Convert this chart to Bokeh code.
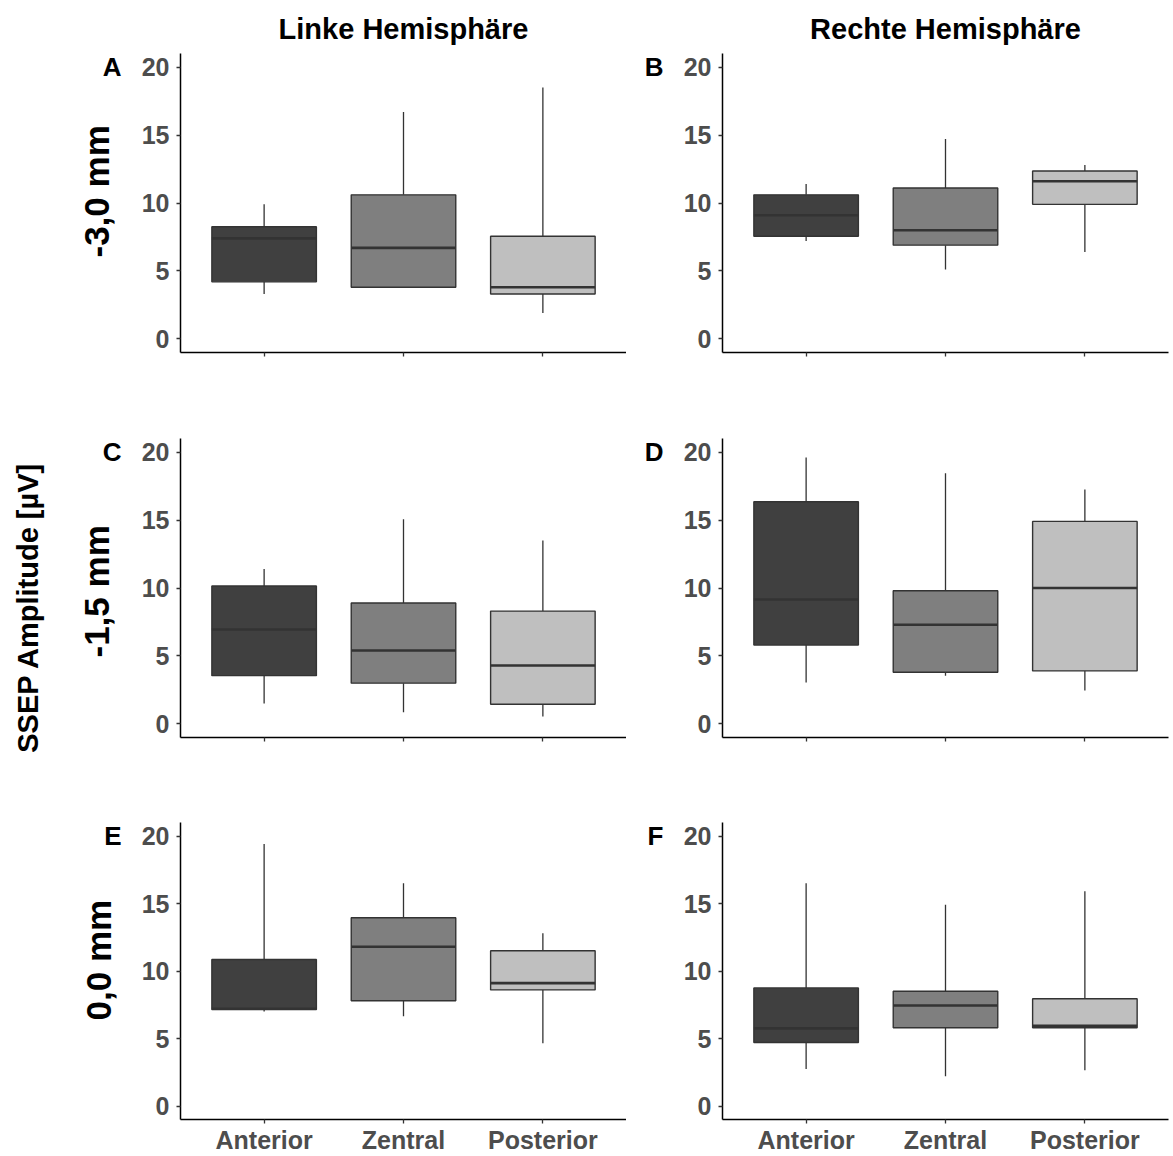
from bokeh.plotting import figure
from bokeh.models import Range1d, FixedTicker, ColumnDataSource, LinearAxis, Title
from bokeh.layouts import column, row
from bokeh.embed import file_html
from bokeh.resources import INLINE

# ---------------- data ----------------
regions = ["Anterior", "Zentral", "Posterior"]
y_ticks = [0, 5, 10, 15, 20]
col_titles = ["Linke Hemisphäre", "Rechte Hemisphäre"]
row_titles = ["-3,0 mm", "-1,5 mm", "0,0 mm"]
panel_letters = ["A", "B", "C", "D", "E", "F"]
y_title = "SSEP Amplitude [µV]"

# panel A: left hemisphere, -3,0 mm
A_lower = [3.3, 3.75, 1.9]
A_q1 = [4.2, 3.8, 3.3]
A_med = [7.4, 6.7, 3.8]
A_q3 = [8.25, 10.6, 7.55]
A_upper = [9.9, 16.7, 18.5]

# panel B: right hemisphere, -3,0 mm
B_lower = [7.2, 5.1, 6.4]
B_q1 = [7.55, 6.9, 9.9]
B_med = [9.1, 8.0, 11.6]
B_q3 = [10.6, 11.1, 12.35]
B_upper = [11.4, 14.7, 12.8]

# panel C: left hemisphere, -1,5 mm
C_lower = [1.5, 0.85, 0.55]
C_q1 = [3.55, 3.0, 1.45]
C_med = [6.95, 5.4, 4.3]
C_q3 = [10.15, 8.9, 8.3]
C_upper = [11.4, 15.05, 13.5]

# panel D: right hemisphere, -1,5 mm
D_lower = [3.05, 3.55, 2.45]
D_q1 = [5.8, 3.8, 3.9]
D_med = [9.15, 7.3, 10.0]
D_q3 = [16.35, 9.8, 14.9]
D_upper = [19.6, 18.45, 17.25]

# panel E: left hemisphere, 0,0 mm
E_lower = [7.0, 6.65, 4.65]
E_q1 = [7.15, 7.8, 8.6]
E_med = [7.2, 11.8, 9.1]
E_q3 = [10.85, 13.95, 11.5]
E_upper = [19.4, 16.5, 12.8]

# panel F: right hemisphere, 0,0 mm
F_lower = [2.75, 2.2, 2.65]
F_q1 = [4.7, 5.8, 5.8]
F_med = [5.75, 7.45, 5.95]
F_q3 = [8.75, 8.5, 7.95]
F_upper = [16.5, 14.9, 15.9]

panels = [
    (A_lower, A_q1, A_med, A_q3, A_upper),
    (B_lower, B_q1, B_med, B_q3, B_upper),
    (C_lower, C_q1, C_med, C_q3, C_upper),
    (D_lower, D_q1, D_med, D_q3, D_upper),
    (E_lower, E_q1, E_med, E_q3, E_upper),
    (F_lower, F_q1, F_med, F_q3, F_upper),
]

# ---------------- style ----------------
fills = ["#404040", "#7f7f7f", "#bfbfbf"]
FONT = "Liberation Sans"
EDGE = "#333333"

TOTAL_H = 1156
YT_W = 45                                      # width of the strip holding the y title
frame_h = 299
row_borders = [(53, 43), (43, 43), (42, 35)]  # (top, bottom)
col_geom = [(180 - YT_W, 446, 0), (96, 446, 5)]  # (left border, frame width, right border)
row_title_offset = [95, 80, 99]                # px shift of row titles along the axis


def make_panel(idx):
    r, c = divmod(idx, 2)
    lower, q1, med, q3, upper = panels[idx]
    bt, bb = row_borders[r]
    bl, fw, br = col_geom[c]
    xs = list(range(1, len(regions) + 1))

    p = figure(width=bl + fw + br, height=bt + frame_h + bb,
               x_range=Range1d(0.4, len(regions) + 0.6), y_range=Range1d(-1, 21),
               output_backend="svg", toolbar_location=None,
               min_border_left=bl, min_border_right=br,
               min_border_top=bt, min_border_bottom=bb)
    p.outline_line_color = None
    p.xgrid.visible = False
    p.ygrid.visible = False
    p.background_fill_color = "white"
    p.border_fill_color = "white"

    src = ColumnDataSource(dict(x=xs, lower=lower, q1=q1, med=med, q3=q3,
                                upper=upper, fill=fills))
    p.segment(x0="x", y0="lower", x1="x", y1="q1", source=src,
              line_color=EDGE, line_width=1.3)
    p.segment(x0="x", y0="q3", x1="x", y1="upper", source=src,
              line_color=EDGE, line_width=1.3)
    p.vbar(x="x", bottom="q1", top="q3", width=0.75, source=src,
           fill_color="fill", line_color=EDGE, line_width=1.4)
    p.vbar(x="x", bottom="med", top="med", width=0.75, source=src,
           fill_alpha=0, line_color=EDGE, line_width=2.6)

    p.yaxis.ticker = FixedTicker(ticks=y_ticks)
    p.xaxis.ticker = FixedTicker(ticks=xs)
    if r == 2:
        p.xaxis.major_label_overrides = {x: name for x, name in zip(xs, regions)}
    else:
        p.xaxis.major_label_overrides = {x: "" for x in xs}

    for ax in (p.xaxis[0], p.yaxis[0]):
        ax.axis_line_color = "black"
        ax.axis_line_width = 1.5
        ax.major_tick_line_color = EDGE
        ax.major_tick_line_width = 1.3
        ax.major_tick_out = 4
        ax.major_tick_in = 0
        ax.minor_tick_line_color = None
        ax.major_label_text_font = FONT
        ax.major_label_text_font_size = "25px"
        ax.major_label_text_font_style = "bold"
        ax.major_label_text_color = "#4d4d4d"
    p.yaxis.major_label_standoff = 7
    p.xaxis.major_label_standoff = 2

    # panel letter via an extra, line-less axis on the left
    letter_axis = LinearAxis(ticker=FixedTicker(ticks=[20]),
                             major_label_overrides={20: panel_letters[idx]})
    letter_axis.axis_line_color = None
    letter_axis.major_tick_line_color = None
    letter_axis.major_tick_out = 0
    letter_axis.major_tick_in = 0
    letter_axis.minor_tick_line_color = None
    letter_axis.major_label_standoff = 17
    letter_axis.major_label_text_font = FONT
    letter_axis.major_label_text_font_size = "26px"
    letter_axis.major_label_text_font_style = "bold"
    letter_axis.major_label_text_color = "black"
    p.add_layout(letter_axis, "left")

    if c == 0:
        p.add_layout(Title(text=row_titles[r], align="left", offset=row_title_offset[r],
                           standoff=-33, text_font=FONT, text_font_size="35px",
                           text_font_style="bold", text_color="black"), "left")

    if r == 0:
        p.title.text = col_titles[c]
        p.title.align = "center"
        p.title.text_font = FONT
        p.title.text_font_size = "29px"
        p.title.text_font_style = "bold"
        p.title.text_color = "black"
        p.title.standoff = 18
    return p


def make_ytitle_strip():
    # narrow strip whose (empty) frame is centred where the shared y title sits
    top_b, bot_b = 128, 70
    s = figure(width=YT_W, height=TOTAL_H, x_range=Range1d(0, 1), y_range=Range1d(0, 1),
               x_axis_type=None, y_axis_type=None,
               output_backend="svg", toolbar_location=None,
               min_border_left=YT_W - 1, min_border_right=0,
               min_border_top=top_b, min_border_bottom=bot_b)
    s.outline_line_color = None
    s.xgrid.visible = False
    s.ygrid.visible = False
    s.background_fill_color = "white"
    s.border_fill_color = "white"
    ax = LinearAxis(ticker=FixedTicker(ticks=[]))
    ax.axis_line_color = None
    ax.major_tick_line_color = None
    ax.minor_tick_line_color = None
    ax.major_tick_out = 0
    ax.major_tick_in = 0
    ax.major_label_standoff = 0
    ax.axis_label = y_title
    ax.axis_label_text_font = FONT
    ax.axis_label_text_font_size = "29px"
    ax.axis_label_text_font_style = "bold"
    ax.axis_label_text_color = "black"
    ax.axis_label_standoff = 1
    s.add_layout(ax, "left")
    return s


figs = [make_panel(i) for i in range(6)]
grid = column(row(figs[0], figs[1]), row(figs[2], figs[3]), row(figs[4], figs[5]))
layout = row(make_ytitle_strip(), grid)

open("out.html", "w").write(file_html(layout, INLINE))
